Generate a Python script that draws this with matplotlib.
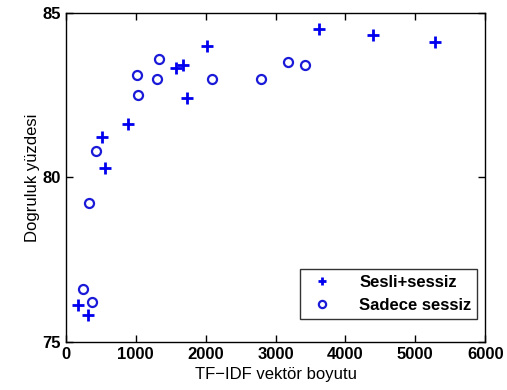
import matplotlib
matplotlib.use('Agg')
import matplotlib.pyplot as plt

plt.rcParams['font.family'] = ['Liberation Sans', 'DejaVu Sans']

# Sesli+sessiz (plus markers)
sesli_x = [177, 310, 511, 558, 893, 1571, 1680, 1737, 2015, 3627, 4401, 5284]
sesli_y = [76.12, 75.82, 81.22, 80.30, 81.61, 83.32, 83.41, 82.41, 83.98, 84.50, 84.33, 84.11]

# Sadece sessiz (circle markers)
sadece_x = [248, 334, 368, 430, 1012, 1026, 1298, 1332, 2086, 2792, 3184, 3423]
sadece_y = [76.62, 79.22, 76.21, 80.81, 83.12, 82.50, 83.00, 83.61, 83.00, 83.00, 83.50, 83.41]

xticks = [0, 1000, 2000, 3000, 4000, 5000, 6000]
yticks = [75, 80, 85]

fig = plt.figure(figsize=(5.07, 3.90), dpi=100)
ax = fig.add_axes([0.130, 0.123, 0.827, 0.844])

ax.plot(sesli_x, sesli_y, '+', color='#0000ee', markersize=8, markeredgewidth=2,
        linestyle='none', label='Sesli+sessiz')
ax.plot(sadece_x, sadece_y, 'o', color='#1a1ad8', markerfacecolor='none',
        markersize=6.5, markeredgewidth=1.6, linestyle='none', label='Sadece sessiz')

ax.set_xlim(0, 6000)
ax.set_ylim(75, 85)
ax.set_xticks(xticks)
ax.set_yticks(yticks)
ax.tick_params(direction='in', top=True, right=True, labelsize=12, length=5, width=1)
for lab in ax.get_xticklabels() + ax.get_yticklabels():
    lab.set_fontweight('bold')
for sp in ax.spines.values():
    sp.set_linewidth(1)

ax.set_xlabel('TF\u2212IDF vektör boyutu', fontsize=12, labelpad=4)
ax.set_ylabel('Dogruluk yüzdesi', fontsize=12, labelpad=2)

leg = ax.legend(loc='lower right', bbox_to_anchor=(0.981, 0.07), borderaxespad=0,
                frameon=True, fancybox=False, handletextpad=1.2, borderpad=0.35,
                markerscale=0.8, prop={'weight': 'bold', 'size': 12})
leg.get_frame().set_edgecolor('black')
leg.get_frame().set_linewidth(1)

fig.savefig('out.png', dpi=100)
